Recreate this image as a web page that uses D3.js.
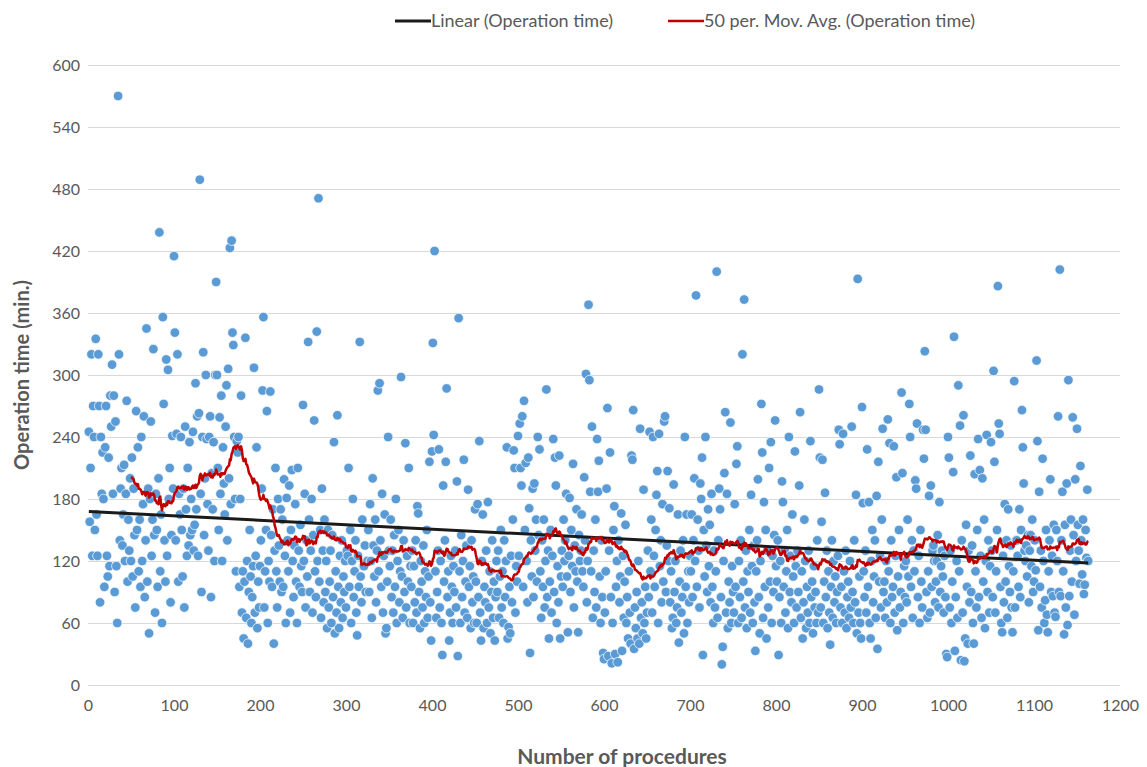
<!DOCTYPE html>
<html>
<head>
<meta charset="utf-8">
<script src="https://cdn.jsdelivr.net/npm/d3@7"></script>
<style>
  html, body { margin: 0; padding: 0; background: #fff; }
  svg { display: block; font-family: Lato, "Open Sans", sans-serif; }
</style>
</head>
<body>
<div id="chart"></div>
<script>
// Operation time (min.) per procedure, in procedure order (1..1163)
const operationTimes = [
  245,158,210,320,125,270,240,150,335,165,125,320,270,80,240,185,225,180,95,230,270,125,105,220,115,
  280,250,310,185,280,90,255,115,60,570,320,140,190,210,135,165,213,120,185,275,100,160,130,200,120,
  220,105,190,145,75,265,150,230,110,160,95,240,120,175,260,85,140,345,100,190,50,180,255,125,160,
  325,145,70,185,150,95,200,438,110,165,60,356,272,140,100,315,125,305,180,210,80,145,241,190,415,
  341,140,243,320,100,185,165,240,150,105,190,75,250,170,125,210,135,235,145,180,150,245,130,155,292,
  170,260,125,263,489,185,90,240,322,145,200,300,238,175,130,240,260,85,205,170,235,120,300,390,300,
  210,150,259,185,280,120,230,195,165,250,290,140,306,200,423,175,430,341,329,240,180,110,236,225,240,
  95,180,280,70,110,45,100,336,65,120,40,90,150,105,60,85,115,307,70,125,230,55,100,75,115,
  140,190,285,356,75,110,150,265,60,120,100,284,145,95,170,40,130,210,110,75,180,135,100,170,90,
  160,95,199,125,60,181,140,110,193,70,150,208,120,85,135,175,100,60,210,130,95,155,115,90,271,
  120,185,75,140,105,332,160,90,130,180,70,145,256,110,85,342,120,471,100,150,65,190,130,80,160,
  90,120,55,150,75,100,130,60,145,85,235,50,110,70,261,95,55,125,80,140,65,105,90,120,75,
  130,125,210,95,150,60,120,180,85,110,140,70,48,125,95,332,105,80,160,115,115,135,90,120,120,
  150,90,175,120,65,200,135,105,160,80,130,285,110,292,140,95,185,70,125,165,50,55,100,240,130,
  115,160,85,130,70,145,95,180,60,120,150,80,110,298,105,65,140,90,234,75,125,100,210,60,115,
  95,130,60,115,80,140,70,173,166,90,55,120,100,75,135,60,110,85,150,65,105,216,80,43,226,
  331,242,420,110,65,90,130,228,75,120,60,29,193,100,140,216,287,85,110,43,70,125,95,60,115,
  90,130,75,197,28,355,110,60,145,85,120,218,70,100,135,65,189,95,115,55,140,80,105,60,170,
  100,60,175,85,236,70,43,120,165,55,95,80,130,60,177,75,110,50,90,140,65,100,43,85,120,
  90,130,65,105,150,75,110,60,140,85,120,230,45,56,95,50,125,80,160,227,210,70,115,100,241,
  125,253,210,193,260,95,275,150,215,120,80,220,171,31,140,105,190,85,195,130,160,100,240,145,228,
  110,65,140,95,160,75,120,286,85,130,45,100,150,70,125,238,90,220,193,60,115,80,222,45,105,
  130,95,160,120,140,185,105,51,125,181,90,150,115,214,75,135,110,170,100,51,145,120,130,165,110,
  95,201,140,301,80,120,368,295,187,110,250,65,130,90,160,75,238,187,217,105,60,140,85,31,25,
  70,110,190,268,28,130,225,85,21,60,150,173,30,95,120,22,140,80,105,166,33,125,65,100,155,
  60,85,45,110,70,40,222,218,266,35,75,55,90,45,120,40,248,65,80,50,189,60,95,45,70,
  130,85,245,110,160,70,240,125,95,150,184,207,60,243,115,140,80,175,100,255,260,90,135,207,120,
  171,80,110,55,65,194,90,120,60,75,165,41,100,130,70,85,140,50,240,95,165,60,110,80,125,
  110,165,85,140,200,120,377,95,160,130,75,195,180,220,29,150,105,240,135,90,170,115,155,80,185,
  95,60,130,75,110,400,65,140,190,170,85,20,37,120,205,264,70,185,55,100,80,254,60,115,90,
  70,175,95,214,231,60,120,85,140,65,320,100,373,75,130,55,110,90,150,70,184,115,60,135,80,
  33,110,140,199,85,50,120,272,225,65,177,95,150,45,130,75,210,100,235,60,125,90,145,256,115,
  100,140,29,85,120,60,197,177,95,130,70,110,150,55,240,90,125,80,165,105,60,226,115,75,130,
  90,193,264,65,110,45,80,160,120,55,95,70,130,60,236,85,100,50,115,75,90,60,140,70,286,
  220,75,158,218,60,100,186,85,130,55,110,70,39,95,140,65,120,80,105,60,90,125,247,233,75,
  95,60,243,110,70,130,55,85,100,65,120,75,250,90,60,140,80,184,50,393,70,105,60,45,269,
  176,110,85,130,70,228,95,177,60,45,120,150,80,105,140,65,183,35,216,100,125,75,160,248,90,
  100,65,120,80,257,110,234,60,140,85,95,231,70,125,201,53,105,150,75,90,283,205,60,115,85,
  120,80,160,105,272,240,95,140,65,130,110,198,190,253,85,125,60,150,100,75,247,219,323,247,90,
  65,110,183,70,193,95,130,135,120,80,100,120,145,75,177,90,115,130,105,70,125,85,30,27,240,
  220,75,130,60,100,206,337,33,85,120,65,290,110,251,24,140,70,261,23,45,155,95,40,130,80,
  222,90,135,60,40,204,110,75,150,238,85,208,125,65,200,100,160,55,120,242,90,140,70,115,235,
  130,85,304,216,70,110,150,386,253,243,95,60,51,125,80,175,100,140,65,170,115,90,135,75,51,
  110,294,75,140,140,125,95,170,85,150,266,230,195,130,120,135,105,145,80,130,145,115,160,90,100,
  140,111,314,236,53,187,95,130,75,219,120,60,82,150,68,51,110,140,199,90,125,86,155,70,66,
  150,120,260,90,402,86,140,187,110,49,155,75,195,58,295,86,130,160,100,259,145,68,199,120,248,
  155,130,98,212,140,107,160,88,97,150,123,189,120
];

// Linear trend line ends: [procedure, minutes]
const trendEnds = [[1, 168], [1163, 118]];

const movingPeriod = 50;
const xTicks = [0, 100, 200, 300, 400, 500, 600, 700, 800, 900, 1000, 1100, 1200];
const yTicks = [0, 60, 120, 180, 240, 300, 360, 420, 480, 540, 600];
const legendLabels = ["Linear (Operation time)", "50 per. Mov. Avg. (Operation time)"];

const width = 1147;
const height = 767;
const marginTop = 65;
const marginRight = 27;
const marginBottom = 82;
const marginLeft = 88;

const grey = "#595959";

const points = operationTimes.map((v, i) => ({ n: i + 1, v }));

// Excel-style trailing moving average
const movingAvg = [];
for (let i = movingPeriod - 1; i < operationTimes.length; i++) {
  const win = operationTimes.slice(i - movingPeriod + 1, i + 1);
  movingAvg.push({ n: i + 1, v: d3.mean(win) });
}

const x = d3.scaleLinear()
  .domain([0, 1200])
  .range([marginLeft, width - marginRight]);

const y = d3.scaleLinear()
  .domain([0, 600])
  .range([height - marginBottom, marginTop]);

const svg = d3.select("#chart")
  .append("svg")
    .attr("width", width)
    .attr("height", height)
    .attr("viewBox", [0, 0, width, height]);

svg.append("rect")
  .attr("width", width)
  .attr("height", height)
  .attr("fill", "#fff");

// horizontal gridlines + y labels
svg.append("g")
  .attr("transform", `translate(${marginLeft},0)`)
  .call(d3.axisLeft(y).tickValues(yTicks).tickSize(-(width - marginLeft - marginRight)).tickPadding(8))
  .call(g => g.select(".domain").remove())
  .call(g => g.selectAll(".tick line").attr("stroke", "#d9d9d9").attr("stroke-width", 1))
  .call(g => g.selectAll(".tick text")
      .attr("fill", grey)
      .attr("font-size", 16)
      .attr("font-family", "Lato, sans-serif"));

// x labels
svg.append("g")
  .attr("transform", `translate(0,${height - marginBottom})`)
  .call(d3.axisBottom(x).tickValues(xTicks).tickFormat(d3.format("d")).tickSize(0).tickPadding(15))
  .call(g => g.select(".domain").remove())
  .call(g => g.selectAll(".tick text")
      .attr("fill", grey)
      .attr("font-size", 16)
      .attr("font-family", "Lato, sans-serif"));

// scatter
svg.append("g")
  .attr("fill", "#5b9bd5")
  .attr("stroke", "#fff")
  .attr("stroke-width", 0.7)
  .selectAll("circle")
  .data(points)
  .join("circle")
    .attr("cx", d => x(d.n))
    .attr("cy", d => y(d.v))
    .attr("r", 4.8);

// linear trend
svg.append("line")
  .attr("x1", x(trendEnds[0][0]))
  .attr("y1", y(trendEnds[0][1]))
  .attr("x2", x(trendEnds[1][0]))
  .attr("y2", y(trendEnds[1][1]))
  .attr("stroke", "#1a1a1a")
  .attr("stroke-width", 3);

// moving average
const line = d3.line()
  .x(d => x(d.n))
  .y(d => y(d.v));

svg.append("path")
  .datum(movingAvg)
  .attr("fill", "none")
  .attr("stroke", "#c00000")
  .attr("stroke-width", 2.5)
  .attr("stroke-linejoin", "round")
  .attr("d", line);

// axis titles
svg.append("text")
  .attr("transform", `translate(29,${(marginTop + height - marginBottom) / 2}) rotate(-90)`)
  .attr("text-anchor", "middle")
  .attr("fill", grey)
  .attr("font-size", 20)
  .attr("font-weight", "bold")
  .text("Operation time (min.)");

svg.append("text")
  .attr("x", 622)
  .attr("y", 764)
  .attr("text-anchor", "middle")
  .attr("fill", grey)
  .attr("font-size", 21)
  .attr("font-weight", "bold")
  .text("Number of procedures");

// legend
const legend = svg.append("g")
  .attr("font-size", 18)
  .attr("fill", grey);

const legendItems = [
  { x: 395, color: "#1a1a1a", width: 3, label: legendLabels[0] },
  { x: 668, color: "#c00000", width: 2.5, label: legendLabels[1] }
];

legendItems.forEach(it => {
  legend.append("line")
    .attr("x1", it.x).attr("x2", it.x + 36)
    .attr("y1", 21).attr("y2", 21)
    .attr("stroke", it.color)
    .attr("stroke-width", it.width);
  legend.append("text")
    .attr("x", it.x + 36)
    .attr("y", 27)
    .text(it.label);
});
</script>
</body>
</html>
